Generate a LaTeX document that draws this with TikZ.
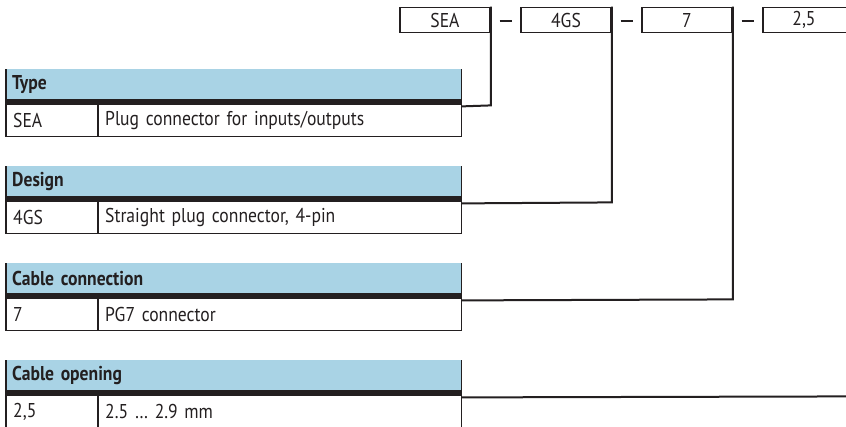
\documentclass[tikz,border=0pt]{standalone}
\usepackage{fontspec}
\setmainfont{PT Sans}[FakeStretch=0.88]
\definecolor{hblue}{HTML}{A9D3E5}
\definecolor{ink}{HTML}{231F20}
\begin{document}
\begin{tikzpicture}[x=1pt,y=-1pt,
  every node/.style={font=\fontsize{20}{22}\selectfont, text=ink},
  topbox/.style={draw=ink, line width=1.6pt, minimum width=90pt, minimum height=25pt, inner sep=0pt},
  sep/.style={inner sep=0pt},
  hdr/.style={fill=hblue, minimum height=30pt, text width=447pt, inner xsep=4pt, inner ysep=0pt, align=left, font=\fontsize{20}{22}\selectfont\bfseries},
  barbox/.style={fill=ink, minimum width=455pt, minimum height=6pt, inner sep=0pt},
  cellA/.style={minimum height=31pt, text width=84pt, inner xsep=4pt, inner ysep=0pt, align=left},
  cellB/.style={minimum height=31pt, text width=355pt, inner xsep=4pt, inner ysep=0pt, align=left},
  border/.style={draw=ink, line width=1.6pt},
  conn/.style={draw=ink, line width=2pt},
]
\useasboundingbox (0,0) rectangle (846,426);
\newcommand\ordtable[5]{%
  \node[hdr, anchor=north west] (#1h) at (6,{#2}) {\hspace*{2pt}#3};
  \node[barbox, anchor=north west] (#1b) at (6,{#2+30}) {};
  \node[cellA, anchor=north west] (#1c) at (6,{#2+36}) {\hspace*{3pt}#4};
  \node[cellB, anchor=north west] (#1d) at (98,{#2+36}) {\hspace*{3pt}#5};
  \draw[border] (#1h.north west) -- (#1c.south west) -- (#1d.south east) -- (#1h.north east);
  \draw[border] (#1d.north west) -- (#1d.south west);
}
\ordtable{ty}{69}{Type}{SEA}{Plug connector for inputs/outputs}
\ordtable{de}{166}{Design}{4GS}{Straight plug connector, 4-pin}
\ordtable{cc}{263}{Cable connection}{7}{PG7 connector}
\ordtable{co}{360}{Cable opening}{2,5}{2.5 \dots{} 2.9 mm}

\node[topbox] (b1) at (445,20) {SEA};
\node[topbox] (b2) at (566,20) {4GS};
\node[topbox] (b3) at (687,20) {7};
\node[topbox] (b4) at (808,20) {\hspace*{-8pt}2,5};
\node[sep] (d1) at (505.5,21) {\color{ink}\rule{12pt}{1.1pt}};
\node[sep] (d2) at (626.5,21) {\color{ink}\rule{12pt}{1.1pt}};
\node[sep] (d3) at (747.5,21) {\color{ink}\rule{12pt}{1.1pt}};

\draw[conn] (b1.north east) -- (b1.north east |- tyb.south east) -- ([yshift=-1pt]tyb.south east);
\draw[conn] (b2.north east) -- (b2.north east |- deb.south east) -- ([yshift=-1pt]deb.south east);
\draw[conn] (b3.north east) -- (b3.north east |- ccb.south east) -- ([yshift=-1pt]ccb.south east);
\draw[conn] (b4.north east) -- (b4.north east |- cob.south east) -- ([yshift=-1pt]cob.south east);
\end{tikzpicture}
\end{document}
